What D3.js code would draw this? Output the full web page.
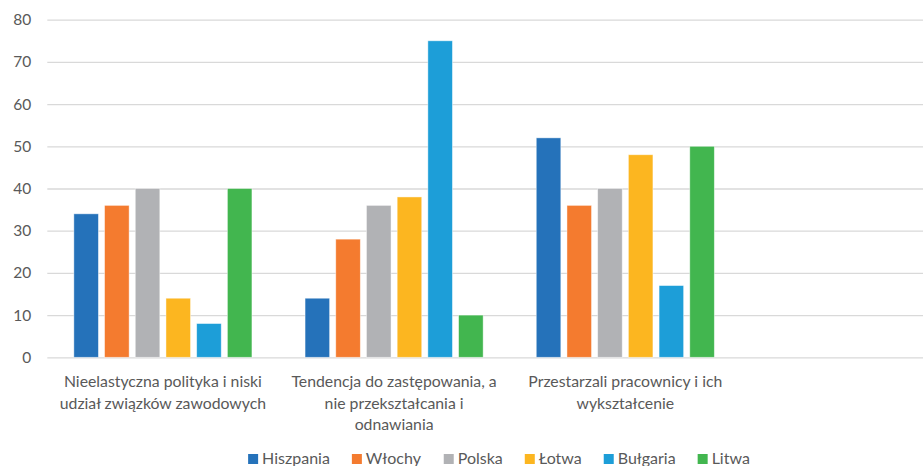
<!DOCTYPE html>
<html>
<head>
<meta charset="utf-8">
<script src="https://cdn.jsdelivr.net/npm/d3@7"></script>
<style>
  html, body { margin: 0; padding: 0; background: #fff; overflow: hidden; }
  svg { display: block; font-family: Lato, "Open Sans", sans-serif; }
</style>
</head>
<body>
<svg id="chart" width="923" height="466"></svg>
<script>
// Categories on the x axis (the fourth slot is an empty category)
const categories = [
  "Nieelastyczna polityka i niski udział związków zawodowych",
  "Tendencja do zastępowania, a nie przekształcania i odnawiania",
  "Przestarzali pracownicy i ich wykształcenie",
  ""
];
const seriesNames = ["Hiszpania", "Włochy", "Polska", "Łotwa", "Bułgaria", "Litwa"];
const hiszpania = [34, 14, 52];
const wlochy    = [36, 28, 36];
const polska    = [40, 36, 40];
const lotwa     = [14, 38, 48];
const bulgaria  = [8, 75, 17];
const litwa     = [40, 10, 50];
const yTicks = [0, 10, 20, 30, 40, 50, 60, 70, 80];

const seriesValues = [hiszpania, wlochy, polska, lotwa, bulgaria, litwa];
const colors = ["#2572ba", "#f47b2f", "#b1b2b5", "#fcb620", "#1d9ed8", "#42b64f"];

const svg = d3.select("#chart");
const plot = { left: 47.3, top: 19.7, bottom: 357.3, bandW: 231.2 };

const x0 = d3.scaleBand()
  .domain(categories.map((c, i) => i))
  .range([plot.left, plot.left + plot.bandW * categories.length])
  .padding(0);

const x1 = d3.scaleBand()
  .domain(seriesNames)
  .range([0, x0.bandwidth()])
  .paddingInner(0.2)
  .paddingOuter(0.865);

const y = d3.scaleLinear().domain([0, 80]).range([plot.bottom, plot.top]);

// Horizontal gridlines + y tick labels
const yAxis = d3.axisLeft(y)
  .tickValues(yTicks)
  .tickSize(-(923 - plot.left + 10))
  .tickPadding(16);

const gy = svg.append("g")
  .attr("transform", `translate(${plot.left},0)`)
  .call(yAxis);
gy.select(".domain").remove();
gy.selectAll(".tick line").attr("stroke", "#d9d9d9").attr("stroke-width", 1.3);
gy.selectAll(".tick text")
  .attr("fill", "#595959")
  .attr("font-size", 15.5)
  .attr("font-family", "Lato, sans-serif");

// Bars
const groups = svg.append("g").selectAll("g")
  .data(categories.slice(0, 3))
  .join("g")
  .attr("transform", (d, i) => `translate(${x0(i)},0)`);

groups.selectAll("rect")
  .data((d, ci) => seriesNames.map((s, si) => ({ s, si, v: seriesValues[si][ci] })))
  .join("rect")
  .attr("x", d => x1(d.s))
  .attr("width", x1.bandwidth())
  .attr("y", d => y(d.v))
  .attr("height", d => y(0) - y(d.v))
  .attr("fill", d => colors[d.si])
  .attr("stroke", "#ffffff")
  .attr("stroke-opacity", 0.55)
  .attr("stroke-width", 0.8);

// Category labels, wrapped to the band width
const catFont = 15.8;
const lineH = 21.5;
const maxW = 216;
const labels = svg.append("g")
  .attr("fill", "#595959")
  .attr("font-size", catFont)
  .attr("text-anchor", "middle");

categories.forEach((c, i) => {
  if (!c) return;
  const t = labels.append("text")
    .attr("x", x0(i) + x0.bandwidth() / 2)
    .attr("y", 387);
  const words = c.split(" ");
  let line = [];
  let lines = [];
  const probe = t.append("tspan");
  words.forEach(w => {
    const test = line.concat([w]).join(" ");
    probe.text(test);
    if (probe.node().getComputedTextLength() > maxW && line.length) {
      lines.push(line.join(" "));
      line = [w];
    } else {
      line.push(w);
    }
  });
  lines.push(line.join(" "));
  probe.remove();
  lines.forEach((l, k) => {
    t.append("tspan")
      .attr("x", x0(i) + x0.bandwidth() / 2)
      .attr("dy", k === 0 ? 0 : lineH)
      .text(l);
  });
});

// Legend
const legend = svg.append("g")
  .attr("font-size", 16)
  .attr("fill", "#595959");
const items = legend.selectAll("g")
  .data(seriesNames)
  .join("g");
items.append("rect")
  .attr("width", 10).attr("height", 10)
  .attr("y", -10)
  .attr("fill", (d, i) => colors[i]);
items.append("text")
  .attr("x", 14)
  .attr("y", 0)
  .text(d => d);
let cursor = 0;
const itemX = [];
items.each(function () {
  itemX.push(cursor);
  cursor += this.getBBox().width + 22;
});
const totalW = cursor - 22;
const legendStart = 499 - totalW / 2;
items.attr("transform", (d, i) => `translate(${legendStart + itemX[i]},464)`);
</script>
</body>
</html>
